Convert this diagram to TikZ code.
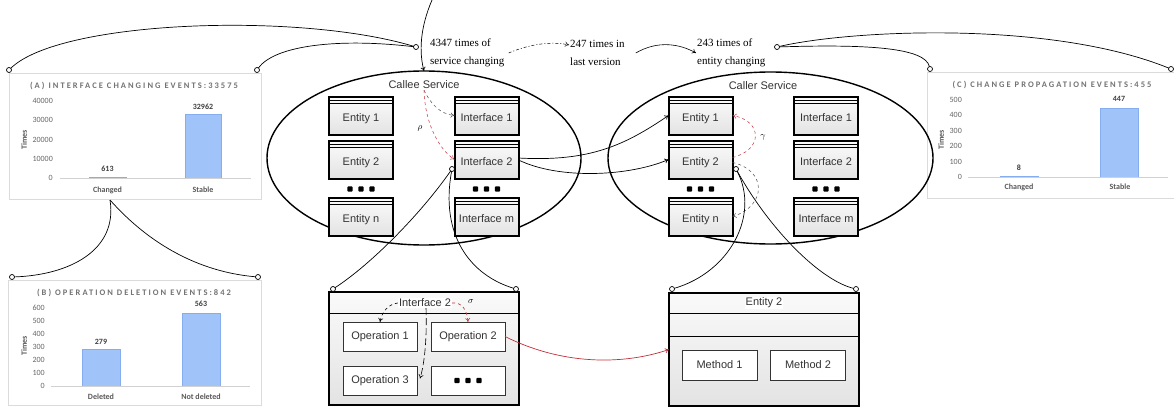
\documentclass[tikz,border=0pt]{standalone}
\usepackage{fontspec}
\setmainfont{Liberation Serif}
\setsansfont{Liberation Sans}
\newfontfamily\chartfont{Carlito}
\newfontfamily\charttitlefont[LetterSpace=24]{Carlito}
\usetikzlibrary{shapes.geometric,arrows.meta,calc}
\definecolor{barfill}{HTML}{A0C4FA}
\definecolor{barline}{HTML}{86AEEE}
\definecolor{dred}{HTML}{C0303A}
\definecolor{boxtxt}{HTML}{333333}
\tikzset{
  ebox/.style={draw=black, line width=2pt, rectangle, minimum width=64pt, minimum height=38pt,
    inner sep=0pt, outer sep=0pt, top color=gray!3, bottom color=gray!22,
    font=\sffamily\fontsize{11}{13}\selectfont, text=boxtxt, text height=14pt, text depth=2pt},
  sepline/.style={line width=0.8pt},
  opbox/.style={draw=black!80, line width=0.9pt, fill=white, minimum width=74pt, minimum height=29pt,
    inner sep=0pt, outer sep=0pt, font=\sffamily\fontsize{11}{13}\selectfont, text=boxtxt},
  detbox/.style={draw, line width=2pt, minimum width=190pt, minimum height=113pt,
    top color=gray!4, bottom color=gray!22, outer sep=0pt, inner sep=0pt},
  svc/.style={draw, ellipse, line width=1.4pt, inner sep=0pt, outer sep=0pt},
  svclbl/.style={font=\sffamily\fontsize{11}{13}\selectfont, text=boxtxt, inner sep=1pt},
  lbl/.style={font=\sffamily\fontsize{11}{13}\selectfont, text=boxtxt, inner sep=1pt},
  anno/.style={font=\fontsize{11}{18}\selectfont, align=left, inner sep=0pt, anchor=west},
  conn/.style={line width=0.7pt},
  hubdot/.style={circle, draw, line width=0.7pt, fill=white, minimum size=5pt, inner sep=0pt, outer sep=0pt},
  arr/.style={-{To[length=4pt,width=5pt]}},
  gdash/.style={dashed, draw=black!70, line width=0.5pt},
  rdash/.style={dashed, draw=dred, line width=0.5pt},
  greek/.style={font=\fontsize{9}{9}\selectfont, inner sep=0pt},
  chartframe/.style={draw=black!14, fill=white, line width=0.6pt, inner sep=0pt, outer sep=0pt},
  ctitle/.style={font=\charttitlefont\bfseries\fontsize{8.5}{9}\selectfont, text=black!55, inner sep=0pt},
  ctick/.style={anchor=east, font=\chartfont\fontsize{8}{9}\selectfont, text=black!60, inner sep=0pt},
  cval/.style={font=\chartfont\bfseries\fontsize{8}{9}\selectfont, text=black!75, inner sep=0pt},
  ccat/.style={font=\chartfont\bfseries\fontsize{8}{9}\selectfont, text=black!65, inner sep=0pt},
  ctimes/.style={rotate=90, font=\chartfont\bfseries\fontsize{8}{9}\selectfont, text=black!65, inner sep=0pt},
  caxis/.style={draw=black!18, line width=0.9pt},
  cbar/.style={fill=barfill, draw=barline, line width=0.5pt},
}
\newcommand{\mkbox}[4]{%
  \node[ebox] (#1) at (#2,#3) {#4};
  \draw[sepline] ([yshift=-4pt]#1.north west) -- ([yshift=-4pt]#1.north east);
  \draw[sepline] ([yshift=-7pt]#1.north west) -- ([yshift=-7pt]#1.north east);}
\newcommand{\threedots}[2]{%
  \foreach \dx in {-11,0,11} {\fill[rounded corners=0.8pt] ({#1+\dx-2.6},{#2-2.6}) rectangle ({#1+\dx+2.6},{#2+2.6});}}
\begin{document}
\begin{tikzpicture}[x=1pt,y=-1pt]
\useasboundingbox (0,0) rectangle (1174,412);

% ---------------- Chart A ----------------
\node[chartframe, minimum width=252pt, minimum height=126pt] (chA) at (135,136) {};
\node[ctitle] (chAt) at (134,86) {(A) INTERFACE CHANGING EVENTS:33575};
\foreach \v/\yy in {0/178,10000/158.75,20000/139.5,30000/120.25,40000/101}
  \node[ctick] at (53,\yy) {\v};
\draw[cbar] (89,178) rectangle (126,176.8);
\draw[cbar] (185,178) rectangle (221,114.5);
\draw[caxis] (60,178) -- (251,178);
\node[cval] at (107.5,169) {613};
\node[cval] at (203,107) {32962};
\node[ccat] at (107.5,190) {Changed};
\node[ccat] at (203,190) {Stable};
\node[ctimes] at (24,140) {Times};

% ---------------- Chart B ----------------
\node[chartframe, minimum width=253pt, minimum height=125pt] (chB) at (134.5,342.5) {};
\node[ctitle] (chBt) at (134,293) {(B) OPERATION DELETION EVENTS:842};
\foreach \v/\yy in {0/386,100/373,200/360,300/347,400/334,500/321,600/308}
  \node[ctick] at (45,\yy) {\v};
\draw[cbar] (82,386) rectangle (120,349.7);
\draw[cbar] (182,386) rectangle (220,312.8);
\draw[caxis] (51,386) -- (250,386);
\node[cval] at (101,342) {279};
\node[cval] at (201,304) {563};
\node[ccat] at (101,397) {Deleted};
\node[ccat] at (201,397) {Not deleted};
\node[ctimes] at (24,346) {Times};

% ---------------- Chart C ----------------
\node[chartframe, minimum width=253pt, minimum height=126pt] (chC) at (1053.5,135) {};
\node[ctitle] (chCt) at (1052,85) {(C) CHANGE PROPAGATION EVENTS:455};
\foreach \v/\yy in {0/177,100/161.6,200/146.2,300/130.8,400/115.4,500/100}
  \node[ctick] at (962,\yy) {\v};
\draw[cbar] (1000,177) rectangle (1038,175.8);
\draw[cbar] (1100,177) rectangle (1138,108.2);
\draw[caxis] (968,177) -- (1168,177);
\node[cval] at (1019,168) {8};
\node[cval] at (1119,99) {447};
\node[ccat] at (1019,187) {Changed};
\node[ccat] at (1120,187) {Stable};
\node[ctimes] at (941,140) {Times};

% ---------------- annotations ----------------
\node[anno] (t1) at (430,53) {4347 times of\\service changing};
\node[anno] (t2) at (570,53) {247 times in\\last version};
\node[anno] (t3) at (697,53) {243 times of\\entity changing};
\draw[arr, line width=0.5pt, dash pattern=on 3pt off 2pt on 1pt off 2pt]
  ([xshift=4pt]t1.east) .. controls (530,44) and (552,41) .. ([xshift=-1pt,yshift=8pt]t2.west);
\draw[arr, line width=0.6pt]
  ([xshift=11pt]t2.east) .. controls (658,40) and (680,44) .. ([xshift=-1pt]t3.west);

% ---------------- services ----------------
\node[svc, minimum width=314pt, minimum height=174pt] (callee) at (424,158) {};
\node[svc, minimum width=325pt, minimum height=172pt] (caller) at (770.5,158) {};
\node[svclbl] (calleelbl) at (424,85) {Callee Service};
\node[svclbl] (callerlbl) at (763,86) {Caller Service};

\mkbox{ce1}{361}{115.5}{Entity 1}
\mkbox{ce2}{361}{159.5}{Entity 2}
\mkbox{cen}{361}{216.5}{Entity n}
\mkbox{ci1}{486.5}{115.5}{Interface 1}
\mkbox{ci2}{486.5}{159.5}{Interface 2}
\mkbox{cim}{486.5}{216.5}{Interface m}
\threedots{361}{189}
\threedots{486.5}{189}

\mkbox{re1}{700.5}{115.5}{Entity 1}
\mkbox{re2}{700.5}{159.5}{Entity 2}
\mkbox{ren}{700.5}{216.5}{Entity n}
\mkbox{ri1}{826}{115.5}{Interface 1}
\mkbox{ri2}{826}{159.5}{Interface 2}
\mkbox{rim}{826}{216.5}{Interface m}
\threedots{700.5}{189}
\threedots{826}{189}

% top incoming arrow
\coordinate (topin) at (432,0);
\draw[conn, arr] (topin) .. controls (420,28) and (419,52) .. (callee.north);

% callee internal arrows
\draw[gdash, arr] (calleelbl.south) .. controls (432,106) and (441,114) .. (ci1.west);
\draw[rdash, arr] (calleelbl.south) .. controls (425,125) and (440,150) .. (ci2.west);
\node[greek] at (420,128) {$\rho$};

% callee Interface 2 -> caller entities
\draw[conn, arr] ([yshift=1.5pt]ci2.east) .. controls (590,162) and (625,145) .. (re1.west);
\draw[conn, arr] ([yshift=-0.5pt]ci2.east) .. controls (560,180) and (630,176) .. (re2.west);

% caller internal arrows
\draw[rdash, arr] ([yshift=2pt]re2.east) .. controls (763,150) and (763,121) .. (re1.east);
\draw[gdash, arr] ([yshift=-3pt]re2.east) .. controls (767,170) and (767,206) .. (ren.east);
\node[greek] at (763,137) {$\gamma$};

% ---------------- detail boxes ----------------
\node[detbox] (idet) at (424,348.5) {};
\draw[line width=1pt] (329,313) -- (519,313);
\node[lbl, fill=white] (ilbl) at (425,303) {Interface 2};
\node[greek] at (471,302) {$\sigma$};
\node[opbox] (op1) at (380,336.5) {Operation 1};
\node[opbox] (op2) at (468,336.5) {Operation 2};
\node[opbox] (op3) at (380,380.5) {Operation 3};
\node[opbox] (op4) at (468,380.5) {};
\threedots{468}{380.5}

\draw[dashed, line width=0.6pt, arr] (ilbl.west) .. controls (389,304) and (382,311) .. (op1.north);
\draw[rdash, line width=0.6pt, arr] (ilbl.east) .. controls (462,302) and (467,310) .. (op2.north);
\draw[line width=0.6pt, dash pattern=on 7pt off 3pt, arr] ([xshift=1pt]ilbl.south) .. controls (427,335) and (425,362) .. ([xshift=3pt,yshift=2pt]op3.east);

\node[detbox] (edet) at (764,349.5) {};
\draw[line width=1pt] (669,313) -- (859,313);
\draw[line width=1pt] (669,336) -- (859,336);
\node[lbl, fill=white] (elbl) at (764,303) {Entity 2};
\node[opbox, minimum width=75pt, minimum height=30pt] (m1) at (719.5,365) {Method 1};
\node[opbox, minimum width=75pt, minimum height=30pt] (m2) at (808,365) {Method 2};

\draw[conn, draw=dred, arr] (op2.east) .. controls (560,364) and (620,366) .. (edet.west);

% ---------------- hub circles & connectors ----------------
\node[hubdot] (hub1) at (416,47) {};
\node[hubdot] (hub2) at (777,47) {};
\node[hubdot] (aTL) at (9,70) {};
\node[hubdot] (aTR) at (257,70) {};
\node[hubdot] (bTL) at (12,277) {};
\node[hubdot] (bTR) at (258,277) {};
\node[hubdot] (cTL) at (930,69) {};
\node[hubdot] (cTR) at (1171,69) {};
\node[hubdot] (cc) at (452,169) {};
\node[hubdot] (rc) at (736,169) {};
\node[hubdot] (iTL) at (333,289) {};
\node[hubdot] (iTR) at (516,289) {};
\node[hubdot] (eTL) at (672,289) {};
\node[hubdot] (eTR) at (856,289) {};
\coordinate (apexA) at (110,200);

\draw[conn] (aTL) .. controls (60,20) and (300,12) .. (hub1);
\draw[conn] (aTR) .. controls (275,45) and (340,38) .. (hub1);
\draw[conn] (hub2) .. controls (850,30) and (1050,20) .. (cTR);
\draw[conn] (hub2) .. controls (870,44) and (925,48) .. (cTL);
\draw[conn] (apexA) .. controls (118,250) and (70,275) .. (bTL);
\draw[conn] (apexA) .. controls (150,245) and (200,272) .. (bTR);
\draw[conn] (cc) .. controls (420,215) and (370,265) .. (iTL);
\draw[conn] (cc) .. controls (440,235) and (470,275) .. (iTR);
\draw[conn] (rc) .. controls (760,215) and (730,272) .. (eTL);
\draw[conn] (rc) .. controls (770,230) and (820,280) .. (eTR);
\end{tikzpicture}
\end{document}
